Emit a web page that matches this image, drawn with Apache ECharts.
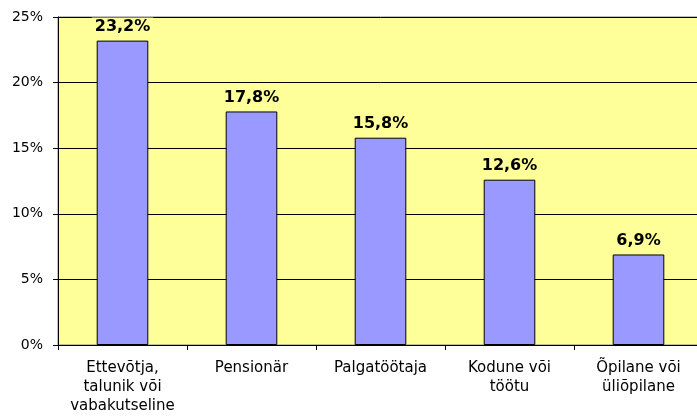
<!DOCTYPE html>
<html>
<head>
<meta charset="UTF-8">
<title>Echarts</title>
<script src="https://cdn.jsdelivr.net/npm/echarts@6/dist/echarts.min.js"></script>
<style>
  html, body { margin: 0; padding: 0; background: #fff; overflow: hidden; }
</style>
</head>
<body>
    <div id="main" style="width: 704px; height: 416px;"></div>
    <script>
        var categories = ["Ettevõtja,\ntalunik või\nvabakutseline", "Pensionär", "Palgatöötaja", "Kodune või\ntöötu", "Õpilane või\nüliõpilane"];
        var values = [23.2, 17.8, 15.8, 12.6, 6.9];
        var yTicks = [0, 5, 10, 15, 20, 25];

        var myChart = echarts.init(document.getElementById("main"));

        var option = {
            animation: false,
            grid: {
                left: 58,
                right: 1,
                top: 17,
                bottom: 71,
                show: true,
                backgroundColor: '#FFFF99',
                borderColor: '#808080',
                borderWidth: 1
            },
            xAxis: {
                type: 'category',
                data: categories,
                axisLine: { lineStyle: { color: '#000', width: 1 } },
                axisTick: { show: true, length: 5, lineStyle: { color: '#000' } },
                axisLabel: {
                    color: '#000',
                    fontFamily: 'DejaVu Sans, Verdana, sans-serif',
                    fontSize: 15,
                    lineHeight: 19,
                    margin: 14,
                    interval: 0
                }
            },
            yAxis: {
                type: 'value',
                min: yTicks[0],
                max: yTicks[yTicks.length - 1],
                interval: 5,
                axisLine: { show: true, lineStyle: { color: '#000', width: 1 } },
                axisTick: { show: true, length: 5, lineStyle: { color: '#000' } },
                splitLine: { lineStyle: { color: '#000', width: 1 } },
                axisLabel: {
                    color: '#000',
                    fontFamily: 'DejaVu Sans, Verdana, sans-serif',
                    fontSize: 14,
                    margin: 15,
                    formatter: '{value}%'
                }
            },
            series: [{
                type: 'bar',
                data: values,
                barWidth: '40%',
                itemStyle: {
                    color: '#9999FF',
                    borderColor: '#000',
                    borderWidth: 1
                },
                label: {
                    show: true,
                    position: 'top',
                    distance: 5,
                    color: '#000',
                    backgroundColor: '#FFFF99',
                    padding: [1, 3],
                    fontFamily: 'DejaVu Sans, Verdana, sans-serif',
                    fontWeight: 'bold',
                    fontSize: 16,
                    formatter: function (p) {
                        return p.value.toFixed(1).replace('.', ',') + '%';
                    }
                }
            }]
        };

        myChart.setOption(option);
    </script>
</body>
</html>
